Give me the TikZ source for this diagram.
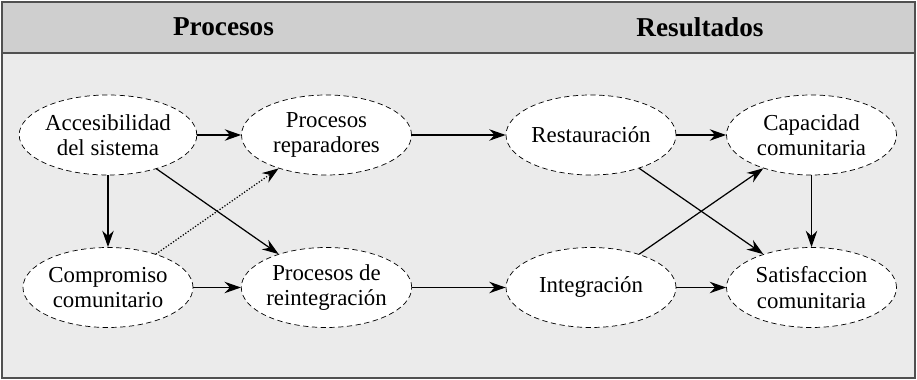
\documentclass[tikz,border=0pt]{standalone}
\usepackage{fontspec}
\setmainfont{Liberation Serif}
\usetikzlibrary{arrows.meta,shapes.geometric,positioning}
\definecolor{headgray}{HTML}{CFCFCF}
\definecolor{bodygray}{HTML}{EBEBEB}
\definecolor{framegray}{HTML}{505050}
\newcommand{\linkcolor}{black}
\tikzstyle{every node}=[font=\fontsize{13}{14.5}\selectfont, align=center]
\tikzstyle{factor}=[ellipse, draw, densely dashed, fill=white, minimum width=3.4cm, minimum height=1.6cm, inner sep=0]
\tikzstyle{link}=[\linkcolor, line width=0.7pt, -{Stealth[length=3.3mm,width=2.3mm,inset=1.1mm]}]
\tikzstyle{heading}=[font=\fontsize{15.5}{17}\selectfont\bfseries]

\begin{document}
\begin{tikzpicture}
\useasboundingbox (0, 0) rectangle (18.34, 7.6);
\fill[bodygray] (0.04, 0.04) rectangle (18.3, 6.54);
\fill[headgray] (0.04, 6.54) rectangle (18.3, 7.56);
\draw[framegray, line width=0.8pt] (0.04, 6.54) -- (18.3, 6.54);
\draw[framegray, line width=1pt] (0.04, 0.04) rectangle (18.3, 7.56);

\node[heading] (procesos) at (4.47, 7.06) {Procesos};
\node[heading] (resultados) at (14.0, 7.06) {Resultados};

\coordinate (p1) at (2.16, 4.9);
\coordinate (p2) at (6.53, 4.9);
\coordinate (p3) at (11.82, 4.9);
\coordinate (p4) at (16.23, 4.9);
\coordinate (q1) at (2.16, 1.85);
\coordinate (q2) at (6.53, 1.85);
\coordinate (q3) at (11.82, 1.85);
\coordinate (q4) at (16.23, 1.85);

\node[factor] (acces) at (p1) {Accesibilidad\\del sistema};
\node[factor] (repar) at (p2) {Procesos\\reparadores};
\node[factor] (resta) at (p3) {Restauración};
\node[factor] (capac) at (p4) {Capacidad\\comunitaria};
\node[factor] (compro) at (q1) {Compromiso\\comunitario};
\node[factor] (reint) at (q2) {Procesos de\\reintegración};
\node[factor] (integ) at (q3) {Integración};
\node[factor] (satis) at (q4) {Satisfaccion\\comunitaria};

\foreach \a/\b in {acces/repar, repar/resta, resta/capac, compro/reint, reint/integ, integ/satis, acces/compro, capac/satis, acces/reint, resta/satis, integ/capac}
{
\draw[link] (\a) -- (\b);
}
\draw[link, densely dotted] (compro) -- (repar);
\end{tikzpicture}
\end{document}
